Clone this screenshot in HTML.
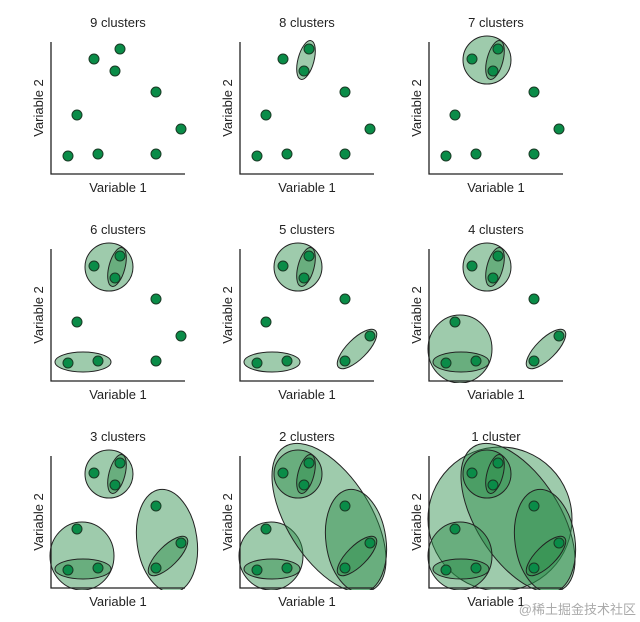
<!DOCTYPE html>
<html><head><meta charset="utf-8"><style>
html,body{margin:0;padding:0;background:#fff;}
svg{display:block;font-family:"Liberation Sans",sans-serif;}
</style></head><body>
<svg id="fig" width="640" height="622" viewBox="0 0 640 622"></svg>
<script>
const titles = ["9 clusters","8 clusters","7 clusters","6 clusters","5 clusters","4 clusters","3 clusters","2 clusters","1 cluster"];
const pointX = [68,94,120,115,156,77,181,156,98];
const pointY = [156,59,49,71,92,115,129,154,154];
// cluster shapes: [cx, cy, rx, ry, rotation]
const shapeCD = [117,60,8,20,15];
const shapeBCD = [109,60,24,24,0];
const shapeAI = [83,155,28,10,0];
const shapeGH = [168,142,26,10,-45];
const shapeAIF = [82,142,32,34,0];
const shapeEGH = [167,127,30,52,-8];
const shapeBig = [140,104,42,84,-32];
const shapeAll = [122,105,72,72,0];
const panelShapes = [
  [],
  [shapeCD],
  [shapeBCD, shapeCD],
  [shapeBCD, shapeCD, shapeAI],
  [shapeBCD, shapeCD, shapeAI, shapeGH],
  [shapeBCD, shapeCD, shapeAIF, shapeAI, shapeGH],
  [shapeBCD, shapeCD, shapeAIF, shapeAI, shapeEGH, shapeGH],
  [shapeAIF, shapeBig, shapeBCD, shapeCD, shapeAI, shapeEGH, shapeGH],
  [shapeAll, shapeBig, shapeAIF, shapeBCD, shapeCD, shapeAI, shapeEGH, shapeGH]
];
const NS="http://www.w3.org/2000/svg";
const svg=document.getElementById('fig');
function mk(tag,attrs,parent){const e=document.createElementNS(NS,tag);for(const k in attrs)e.setAttribute(k,attrs[k]);parent.appendChild(e);return e;}
titles.forEach((t,i)=>{
  const dx=(i%3)*189, dy=Math.floor(i/3)*207;
  const g=mk('g',{transform:`translate(${dx},${dy})`},svg);
  
  
  panelShapes[i].forEach(s=>{
    const e=mk('ellipse',{cx:s[0],cy:s[1],rx:s[2],ry:s[3],transform:`rotate(${s[4]} ${s[0]} ${s[1]})`,fill:'rgba(40,140,70,0.45)',stroke:'#222','stroke-width':1},g);
    
    
  });
  mk('rect',{x:0,y:176,width:189,height:31,fill:'#fff'},g);
  const tt=mk('text',{x:118,y:27,'text-anchor':'middle','font-size':13,fill:'#222'},g);
  tt.textContent=t;
  
  
  const ax=mk('path',{d:'M51 42 V174 H185',fill:'none',stroke:'#222','stroke-width':1.3},g);
  
  
  pointX.forEach((x,j)=>{
    const c=mk('circle',{cx:x,cy:pointY[j],r:5,fill:'#0a8c48',stroke:'#1a3a25','stroke-width':1},g);
    
    
  });
  const xl=mk('text',{x:118,y:192,'text-anchor':'middle','font-size':13,fill:'#222'},g);
  xl.textContent='Variable 1';
  
  
  const yl=mk('text',{x:0,y:0,'text-anchor':'middle','font-size':13,fill:'#222',transform:'translate(43,108) rotate(-90)'},g);
  yl.textContent='Variable 2';
  
  
});
const wm=mk('text',{x:636,y:614,'text-anchor':'end','font-size':13,fill:'#aaa','font-family':'"Liberation Sans","Noto Sans CJK SC",sans-serif'},svg);
wm.textContent='@稀土掘金技术社区';


</script>
</body></html>
